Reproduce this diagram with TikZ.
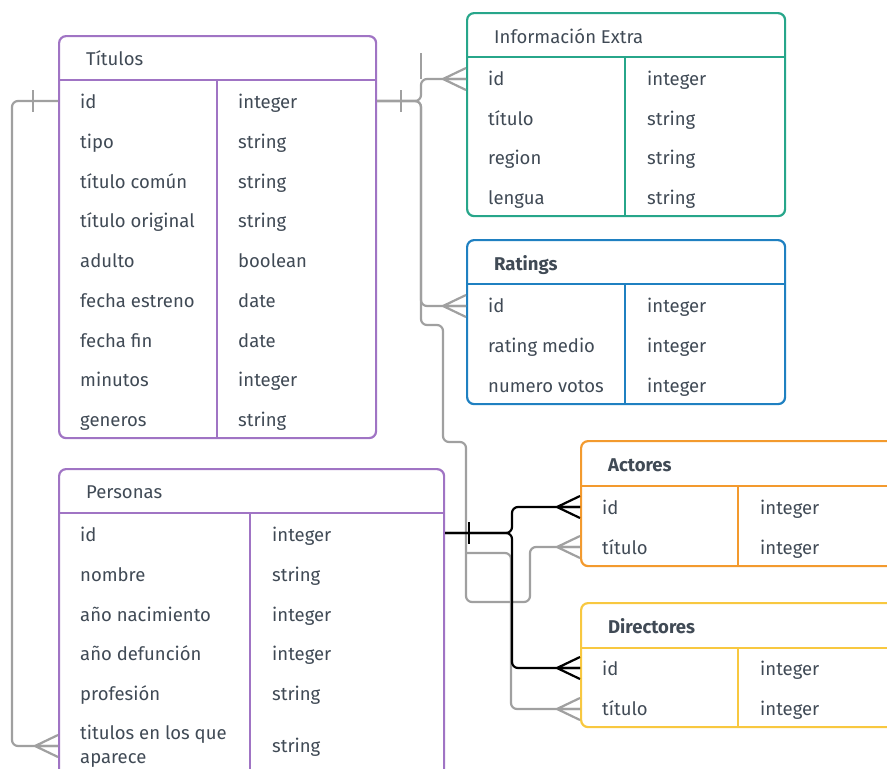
\documentclass[tikz,border=0pt]{standalone}
\usepackage{fontspec}
\setmainfont{Fira Sans}

\definecolor{texto}{HTML}{404A55}
\definecolor{lila}{HTML}{A074C4}
\definecolor{verde}{HTML}{27A68A}
\definecolor{azul}{HTML}{1F80C1}
\definecolor{naranja}{HTML}{F39A2E}
\definecolor{amarillo}{HTML}{F8C840}
\definecolor{gris}{HTML}{A0A0A0}

\tikzset{
  tabla/.style={draw, line width=2.2pt, rounded corners=7pt, fill=white,
    anchor=north west, inner sep=0pt},
  linea/.style={line width=2.2pt},
  letra/.style={inner sep=0pt, text=texto, font=\fontsize{18.5}{22}\selectfont},
  campo/.style={letra, anchor=base west, yshift=-6.5pt},
  cabecera/.style={campo},
  cabnegrita/.style={campo, font=\fontsize{18.5}{22}\selectfont\bfseries},
  rel/.style={draw=gris, line width=2.2pt, rounded corners=6pt},
  relnegra/.style={rel, draw=black},
  muchos/.pic={\draw[pic actions, sharp corners] (0,-11) -- (-23,0) -- (0,11) (0,0) -- (-23,0);},
  uno/.pic={\draw[pic actions, sharp corners] (0,-11) -- (0,11);},
}

\begin{document}
\begin{tikzpicture}[x=1pt, y=-1pt]
  \useasboundingbox (0,0) rectangle (887,769);
  \clip (0,0) rectangle (887,769);

  % tables
  \node[tabla, draw=lila, minimum width=317pt, minimum height=402pt] (titulos) at (58,35) {};
  \node[tabla, draw=verde, minimum width=318pt, minimum height=203pt] (info) at (466,12) {};
  \node[tabla, draw=azul, minimum width=318pt, minimum height=164pt] (ratings) at (466,239) {};
  \node[tabla, draw=lila, minimum width=385pt, minimum height=340pt] (personas) at (58,468) {};
  \node[tabla, draw=naranja, minimum width=340pt, minimum height=125pt] (actores) at (580,440) {};
  \node[tabla, draw=amarillo, minimum width=340pt, minimum height=124pt] (directores) at (580,602) {};

  \draw[linea, lila] (58,80) -- (375,80) (217,80) -- (217,437);
  \draw[linea, verde] (466,57) -- (784,57) (625,57) -- (625,215);
  \draw[linea, azul] (466,284) -- (784,284) (625,284) -- (625,403);
  \draw[linea, lila] (58,513) -- (443,513) (250,513) -- (250,800);
  \draw[linea, naranja] (580,486) -- (920,486) (738,486) -- (738,565);
  \draw[linea, amarillo] (580,648) -- (920,648) (738,648) -- (738,726);

  % headers
  \node[cabecera] (tit-h) at (86,59) {Títulos};
  \node[cabecera] (inf-h) at (494,37) {Información Extra};
  \node[cabnegrita] (rat-h) at (494,264) {Ratings};
  \node[cabecera] (per-h) at (86,492) {Personas};
  \node[cabnegrita] (act-h) at (608,465) {Actores};
  \node[cabnegrita] (dir-h) at (608,627) {Directores};

  % fields
  \foreach \c/\t [count=\i from 0] in {id/integer, tipo/string, título común/string,
      título original/string, adulto/boolean, fecha estreno/date, fecha fin/date,
      minutos/integer, generos/string} {
    \node[campo] (tit-c\i) at (80,102+39.75*\i) {\c};
    \node[campo] (tit-t\i) at (238,102+39.75*\i) {\t};
  }
  \foreach \c/\t [count=\i from 0] in {id/integer, título/string, region/string, lengua/string} {
    \node[campo] (inf-c\i) at (488,79+39.7*\i) {\c};
    \node[campo] (inf-t\i) at (647,79+39.7*\i) {\t};
  }
  \foreach \c/\t [count=\i from 0] in {id/integer, rating medio/integer, numero votos/integer} {
    \node[campo] (rat-c\i) at (488,306+40*\i) {\c};
    \node[campo] (rat-t\i) at (647,306+40*\i) {\t};
  }
  \foreach \c/\t [count=\i from 0] in {id/integer, nombre/string, año nacimiento/integer,
      año defunción/integer, profesión/string} {
    \node[campo] (per-c\i) at (80,535+39.8*\i) {\c};
    \node[campo] (per-t\i) at (272,535+39.8*\i) {\t};
  }
  \node[letra, anchor=west, align=left, font=\fontsize{18.5}{24}\selectfont]
    (per-c5) at (80,746) {titulos en los que\\aparece};
  \node[campo] (per-t5) at (272,746) {string};
  \foreach \c/\t [count=\i from 0] in {id/integer, título/integer} {
    \node[campo] (act-c\i) at (602,508+39.5*\i) {\c};
    \node[campo] (act-t\i) at (760,508+39.5*\i) {\t};
    \node[campo] (dir-c\i) at (602,669+40*\i) {\c};
    \node[campo] (dir-t\i) at (760,669+40*\i) {\t};
  }

  % gray relations
  \coordinate (tronco) at (421,53);
  \coordinate (codo1) at (443,325);
  \coordinate (codo2) at (466,442);
  \coordinate (codo3) at (530,602);
  \coordinate (rama) at (466,553);
  \coordinate (bajada) at (511,709);
  \coordinate (tit-id) at (0,101);
  \coordinate (inf-id) at (0,79);
  \coordinate (rat-id) at (0,306);
  \coordinate (per-tit) at (0,746);
  \coordinate (act-tit) at (0,547);
  \coordinate (dir-tit) at (0,709);

  \draw[rel] (titulos.west |- tit-id) -- (12,101) |- (personas.west |- per-tit);
  \draw[rel] (tronco) -- (tronco |- inf-id);
  \draw[rel] (titulos.east |- tit-id) -| (tronco |- inf-id) -- (info.west |- inf-id);
  \draw[rel] (titulos.east |- tit-id) -| (tronco |- rat-id) -- (ratings.west |- rat-id);
  \draw[rel] (titulos.east |- tit-id) -| (tronco |- codo1) -- (codo1) |- (codo2) |- (codo3)
    |- (actores.west |- act-tit);
  \draw[rel] (rama) -| (bajada) -- (directores.west |- dir-tit);

  \pic[rel] at ([xshift=-25pt]titulos.west |- tit-id) {uno};
  \pic[rel] at ([xshift=24pt]titulos.east |- tit-id) {uno};
  \pic[rel] at (personas.west |- per-tit) {muchos};
  \pic[rel] at (info.west |- inf-id) {muchos};
  \pic[rel] at (ratings.west |- rat-id) {muchos};
  \pic[rel] at (actores.west |- act-tit) {muchos};
  \pic[rel] at (directores.west |- dir-tit) {muchos};

  % black relations
  \coordinate (reparto) at (512,533);
  \coordinate (act-id) at (0,507);
  \coordinate (dir-id) at (0,668);
  \draw[relnegra] (personas.east |- reparto) -- (reparto) |- (actores.west |- act-id);
  \draw[relnegra] (personas.east |- reparto) -- (reparto) |- (directores.west |- dir-id);
  \pic[relnegra] at ([xshift=24pt]personas.east |- reparto) {uno};
  \pic[relnegra] at (actores.west |- act-id) {muchos};
  \pic[relnegra] at (directores.west |- dir-id) {muchos};
\end{tikzpicture}
\end{document}
